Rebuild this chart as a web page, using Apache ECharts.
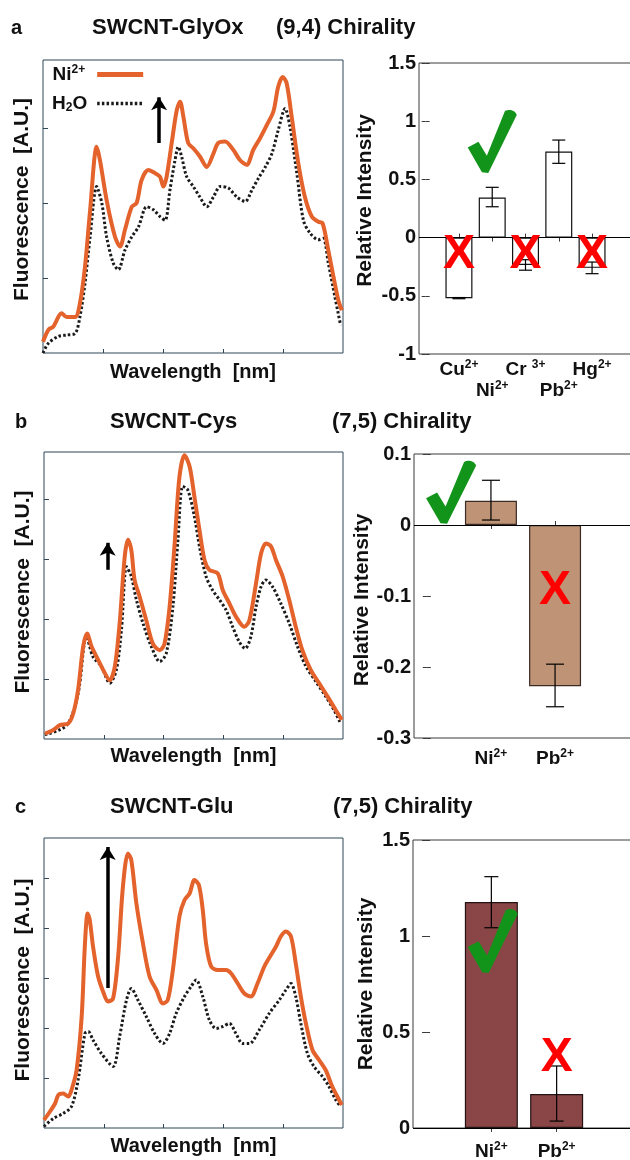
<!DOCTYPE html>
<html>
<head>
<meta charset="utf-8">
<script src="https://cdn.jsdelivr.net/npm/echarts@6/dist/echarts.min.js"></script>
<style>html,body{margin:0;padding:0;background:#fff}#c{width:630px;height:1160px}</style>
</head>
<body>
<div id="c"></div>
<script>
// ---------- DATA ----------
// Spectra (x: relative wavelength 0-100, y: fluorescence in arbitrary units)
const aNi = [[0,0.15],[1.8,0.31],[3.4,0.35],[6.2,0.53],[7.9,0.48],[10.7,0.48],[12.3,0.66],[14,1.15],[15.7,1.9],[17.9,2.75],[19,2.57],[21.2,2.04],[24,1.55],[25.7,1.42],[27.3,1.64],[29.6,1.95],[31.2,2.0],[32.9,2.31],[35.1,2.44],[37.3,2.4],[39,2.35],[40.1,2.22],[41.2,2.35],[42.9,2.8],[44.6,3.24],[45.7,3.35],[46.8,3.15],[48.4,2.8],[50.1,2.73],[52.3,2.62],[54.6,2.48],[56.8,2.66],[58.4,2.8],[60.7,2.82],[63.4,2.71],[65.7,2.57],[67.9,2.51],[70.1,2.71],[72.3,2.86],[74.6,3.04],[76.8,3.22],[78.4,3.55],[79.9,3.68],[81.2,3.6],[82.9,3.15],[85.1,2.53],[87.3,2.08],[89.6,1.82],[91.8,1.75],[93.2,1.73],[95.1,1.37],[96.8,1.02],[98.4,0.71],[99.6,0.57]];
const aH2O = [[0,0],[1.8,0.13],[5.1,0.22],[7.9,0.24],[10.7,0.26],[12.3,0.48],[14,0.93],[15.7,1.55],[17.9,2.22],[19.6,2.0],[21.2,1.55],[23.4,1.2],[25.1,1.11],[27.3,1.37],[29.6,1.55],[31.8,1.68],[34.6,1.95],[36.8,1.91],[39,1.82],[40.7,1.77],[42.3,2.17],[44,2.57],[45.1,2.75],[46.2,2.62],[47.9,2.35],[50.1,2.22],[52.3,2.08],[54.6,1.95],[56.8,2.08],[59.1,2.22],[61.8,2.2],[64.6,2.08],[67.4,2.02],[69.6,2.17],[71.8,2.33],[74.1,2.48],[76.3,2.66],[78.4,2.97],[80.7,3.26],[82.3,3.02],[84.6,2.4],[86.8,1.77],[89,1.6],[91.8,1.51],[93.4,1.53],[95.1,1.2],[97.3,0.75],[99.2,0.37]];
const bNi = [[0.3,0.09],[3.1,0.15],[5.3,0.23],[8.1,0.26],[9.8,0.43],[11.4,0.82],[13.1,1.54],[14.4,1.76],[15.9,1.54],[17.6,1.37],[19.8,1.15],[22,0.98],[23.7,1.21],[25.3,1.93],[27,3.04],[28.1,3.32],[29.2,3.15],[30.3,2.65],[32,2.37],[34.2,1.98],[36.4,1.59],[38.7,1.48],[40.3,1.59],[42,2.2],[43.7,3.26],[45.3,4.37],[47,4.73],[48.7,4.54],[50.3,4.04],[52,3.48],[53.7,2.98],[55.3,2.82],[58.1,2.76],[59.8,2.48],[62,2.26],[64.2,2.04],[67,1.87],[68.7,1.98],[70.9,2.59],[72.6,3.09],[74.2,3.26],[75.9,3.21],[77.6,2.98],[79.8,2.71],[82,2.32],[84.2,1.87],[86.4,1.48],[89.2,1.15],[92,0.93],[94.8,0.71],[97.6,0.48],[99.6,0.32]];
const bH2O = [[0.3,0.07],[7.6,0.23],[11.4,0.76],[14.2,1.71],[16.4,1.37],[19.2,1.21],[22,0.93],[24.2,1.15],[25.9,1.82],[27.6,2.87],[29.2,2.71],[30.9,2.32],[33.1,1.93],[35.9,1.54],[38.7,1.29],[40.9,1.43],[43.1,2.2],[44.8,3.32],[46.4,4.21],[48.1,4.15],[50.3,3.71],[52,3.21],[54.2,2.71],[56.4,2.48],[58.7,2.32],[60.9,2.15],[63.1,1.87],[65.3,1.62],[67.3,1.51],[69.2,1.71],[70.9,2.2],[72.6,2.54],[74.2,2.65],[76.4,2.54],[79.2,2.26],[82,1.93],[84.8,1.54],[87.6,1.21],[90.9,0.96],[94.2,0.71],[97,0.48],[99.2,0.26]];
const cNi = [[0,0.16],[2,0.33],[3.7,0.49],[4.8,0.66],[6.4,0.69],[8.1,0.63],[9.2,0.76],[10.9,1.16],[12.6,2.23],[13.7,3.69],[14.6,4.29],[15.3,4.16],[16.4,3.63],[18.1,3.03],[20,2.69],[21.4,2.53],[23.1,2.59],[24.8,3.43],[26.4,4.83],[28.1,5.49],[29.2,5.36],[30.9,4.49],[33.1,3.69],[35.3,3.03],[37.6,2.76],[39.8,2.49],[41.4,2.56],[43.1,3.16],[45.3,4.23],[47,4.56],[48.7,4.69],[50.3,4.96],[51.8,4.86],[53.1,4.36],[54.2,3.69],[55.9,3.23],[58.1,3.16],[60.9,3.16],[62.6,3.09],[64.8,2.89],[67,2.69],[69.2,2.63],[71.4,2.89],[73.7,3.23],[75.9,3.46],[77.6,3.63],[79.2,3.83],[80.9,3.93],[82.6,3.83],[84.2,3.29],[85.9,2.63],[87.6,2.09],[89.8,1.56],[92,1.36],[94.2,1.16],[96.4,0.83],[98.7,0.56],[99.6,0.46]];
const cH2O = [[0,0.03],[3.1,0.19],[6.4,0.29],[9.2,0.43],[11.4,0.96],[13.7,1.89],[14.8,1.93],[16.4,1.76],[19.2,1.49],[23.1,1.23],[25.3,1.83],[27.6,2.56],[29.2,2.79],[31.4,2.56],[34.2,2.23],[37,1.89],[39.8,1.69],[42,1.89],[44.2,2.29],[47,2.63],[49.2,2.83],[50.9,2.96],[53.1,2.63],[55.3,2.16],[57.6,1.99],[59.8,2.03],[62,2.09],[64.2,1.89],[66.4,1.69],[68.7,1.69],[72,1.96],[75.3,2.29],[78.7,2.56],[80.9,2.76],[82.6,2.89],[84.2,2.63],[85.9,2.09],[88.1,1.49],[90.3,1.23],[93.1,1.03],[95.3,0.83],[97.6,0.56],[99.2,0.43]];
// arrows: [x, yStart, yEnd]
const arrowA = [38.7, 2.8, 3.41];
const arrowB = [21.3, 2.82, 3.27];
const arrowC = [21.3, 2.8, 5.62];

// Relative intensity bars
const ionsA = ['Cu', 'Ni', 'Cr ', 'Pb', 'Hg'];
const chargeA = ['2+', '2+', '3+', '2+', '2+'];
const relA = [-0.52, 0.345, -0.235, 0.74, -0.26];
const errLoA = [-0.525, 0.265, -0.28, 0.638, -0.31];
const errHiA = [-0.515, 0.432, -0.19, 0.838, -0.21];

const ionsB = ['Ni', 'Pb'];
const chargeB = ['2+', '2+'];
const relB = [0.034, -0.227];
const errLoB = [0.007, -0.256];
const errHiB = [0.063, -0.196];

const ionsC = ['Ni', 'Pb'];
const chargeC = ['2+', '2+'];
const relC = [1.177, 0.177];
const errLoC = [1.043, 0.036];
const errHiC = [1.309, 0.323];

// annotation marks in data coordinates
const checksA = [[2, 0.826]];
const crossesA = [[1, -0.15], [3, -0.15], [5, -0.15]];
const checksB = [[0.378, 0.046]];
const crossesB = [[2, -0.093]];
const checksC = [[1.02, 0.974]];
const crossesC = [[2, 0.365]];

// ---------- STYLE ----------
const FONT = '"Liberation Sans", Arial, sans-serif';
const ORANGE = '#e4622b';
const DOT = '#1a1a1a';
const FRAME_L = '#2f4656';
const FRAME_R = '#3a3a3a';
const GREEN = '#12941a';
const RED = '#ff0000';
const CHECK_PATH = 'path://M0,60 L22,51 L39,73 L76,3 C84,-1 98,2 100,9 L42,100 L29,99 Z';

const richLab = {
  t: {fontSize: 19, fontWeight: 'bold', fontFamily: FONT, color: '#111', lineHeight: 21},
  sup: {fontSize: 12, fontWeight: 'bold', fontFamily: FONT, color: '#111', verticalAlign: 'top', lineHeight: 13},
  sub: {fontSize: 12, fontWeight: 'bold', fontFamily: FONT, color: '#111', verticalAlign: 'bottom', lineHeight: 13}
};
const nameStyle = (size, pad) => ({fontSize: size, fontWeight: 'bold', fontFamily: FONT, color: '#111', padding: pad});

function specX(g, gap) {
  return {gridIndex: g, type: 'value', min: 0, max: 100,
    axisLine: {show: false}, splitLine: {show: false}, axisLabel: {show: false},
    axisTick: {show: true, inside: true, length: 4, customValues: [20, 40, 60, 80], lineStyle: {color: FRAME_L}},
    name: 'Wavelength  [nm]', nameLocation: 'middle', nameGap: gap,
    nameTextStyle: nameStyle(20, 0)};
}
function specY(g, max, ticks, pad) {
  return {gridIndex: g, type: 'value', min: 0, max: max,
    axisLine: {show: false}, splitLine: {show: false}, axisLabel: {show: false},
    axisTick: {show: true, inside: true, length: 5, customValues: ticks, lineStyle: {color: FRAME_L}},
    name: 'Fluorescence  [A.U.]', nameLocation: 'middle', nameGap: 10, nameRotate: 90,
    nameTextStyle: nameStyle(21, pad)};
}
// bar-plot x axis; labelIdx = which categories (0-based) get a label on this axis
function barX(g, pos, max, ions, charges, labelIdx, margin, ticks) {
  const vals = ions.map((_, i) => i + 1);
  const labVals = labelIdx.map(i => i + 1);
  return {gridIndex: g, type: 'value', position: pos, min: -0.2, max: max,
    axisLine: {show: false}, splitLine: {show: false},
    axisTick: {show: ticks, inside: true, length: 4, customValues: vals, lineStyle: {color: FRAME_R}},
    axisLabel: labVals.length ? {show: true, customValues: labVals, margin: margin, lineHeight: 21,
      showMinLabel: true, showMaxLabel: true, hideOverlap: false,
      formatter: v => {
        const i = Math.round(v) - 1;
        return '{t|' + ions[i] + '}{sup|' + charges[i] + '}';
      }, rich: richLab} : {show: false}};
}
function barY(g, pos, min, max, interval, gap, pad) {
  const o = {gridIndex: g, type: 'value', position: pos, min: min, max: max, interval: interval,
    axisLine: {show: false}, splitLine: {show: false},
    axisTick: {show: true, inside: true, length: 4, lineStyle: {color: FRAME_R}},
    axisLabel: {show: pos === 'left', margin: 3, fontSize: 20, fontWeight: 'bold', fontFamily: FONT, color: '#111'}};
  if (pos === 'left') {
    o.name = 'Relative Intensity'; o.nameLocation = 'middle'; o.nameGap = gap; o.nameRotate = 90;
    o.nameTextStyle = nameStyle(21, pad);
  }
  return o;
}
function gridBox(l, t, w, h, col) {
  return {left: l, top: t, width: w, height: h, show: true, borderColor: col, borderWidth: 1,
    backgroundColor: 'rgba(0,0,0,0)', containLabel: false, outerBoundsMode: 'none'};
}
function niLine(name, ax, data) {
  return {type: 'line', name: name, xAxisIndex: ax, yAxisIndex: ax, data: data, symbol: 'none', showSymbol: false,
    smooth: 0.3, lineStyle: {color: ORANGE, width: 4}, itemStyle: {color: ORANGE}, z: 4, silent: true};
}
function h2oLine(name, ax, data, arrow) {
  return {type: 'line', name: name, xAxisIndex: ax, yAxisIndex: ax, data: data, symbol: 'none', showSymbol: false,
    smooth: 0.3, lineStyle: {color: DOT, width: 3, type: [2.5, 2.2]}, itemStyle: {color: DOT}, z: 3, silent: true,
    markLine: {silent: true, symbol: ['none', 'arrow'], symbolSize: [12, 13], animation: false,
      lineStyle: {color: '#000', width: 3.5, type: 'solid'}, label: {show: false},
      data: [[{coord: [arrow[0], arrow[1]]}, {coord: [arrow[0], arrow[2]]}]]}};
}
function bars(ax, vals, color, border, width) {
  return {type: 'bar', xAxisIndex: ax, yAxisIndex: ax, data: vals.map((v, i) => [i + 1, v]), barWidth: width,
    itemStyle: {color: color, borderColor: border, borderWidth: 1.2}, z: 2, silent: true,
    markLine: {silent: true, symbol: 'none', animation: false, label: {show: false},
      lineStyle: {color: '#000', width: 1.2, type: 'solid'}, data: [{yAxis: 0}]}};
}
function errBars(ax, lo, hi, cap) {
  return {type: 'custom', xAxisIndex: ax, yAxisIndex: ax, z: 5, silent: true,
    data: lo.map((v, i) => [i + 1, v, hi[i]]), encode: {x: 0, y: [1, 2]},
    renderItem: (params, api) => {
      const p1 = api.coord([api.value(0), api.value(1)]);
      const p2 = api.coord([api.value(0), api.value(2)]);
      const st = {stroke: '#000', lineWidth: 1.2};
      return {type: 'group', children: [
        {type: 'line', shape: {x1: p1[0], y1: p1[1], x2: p2[0], y2: p2[1]}, style: st},
        {type: 'line', shape: {x1: p1[0] - cap, y1: p1[1], x2: p1[0] + cap, y2: p1[1]}, style: st},
        {type: 'line', shape: {x1: p2[0] - cap, y1: p2[1], x2: p2[0] + cap, y2: p2[1]}, style: st}
      ]};
    }};
}
function checks(ax, pts, size) {
  return {type: 'scatter', xAxisIndex: ax, yAxisIndex: ax, data: pts, symbol: CHECK_PATH, symbolSize: size,
    itemStyle: {color: GREEN, opacity: 1}, z: 8, silent: true};
}
function crosses(ax, pts) {
  return {type: 'scatter', xAxisIndex: ax, yAxisIndex: ax, data: pts, symbol: 'circle', symbolSize: 0,
    itemStyle: {color: 'rgba(0,0,0,0)', opacity: 1}, z: 9, silent: true,
    label: {show: true, position: 'inside', formatter: 'X', color: RED, opacity: 1, fontSize: 48, fontWeight: 'bold', fontFamily: FONT}};
}
function title(x, y, txt, size) {
  return {type: 'text', x: x, y: y, style: {text: txt, fontSize: size, fontWeight: 'bold', fontFamily: FONT, fill: '#111', verticalAlign: 'middle', align: 'left'}};
}

const option = {
  backgroundColor: '#fff',
  animation: false,
  grid: [
    gridBox(43, 60, 300, 293, FRAME_L),
    gridBox(419, 63, 213, 291, FRAME_R),
    gridBox(44, 452, 299, 287, FRAME_L),
    gridBox(414, 454, 218, 284, FRAME_R),
    gridBox(44, 838, 299, 290, FRAME_L),
    gridBox(413, 840, 222, 288, FRAME_R)
  ],
  xAxis: [
    specX(0, 9),
    barX(1, 'bottom', 6.2, ionsA, chargeA, [0, 2, 4], 5, true),
    barX(1, 'top', 6.2, ionsA, chargeA, [], 5, true),
    specX(2, 7),
    barX(3, 'bottom', 3.2, ionsB, chargeB, [0, 1], 10, true),
    barX(3, 'top', 3.2, ionsB, chargeB, [], 10, true),
    specX(4, 8),
    barX(5, 'bottom', 3.2, ionsC, chargeC, [0, 1], 13, true),
    barX(5, 'top', 3.2, ionsC, chargeC, [], 13, true),
    barX(1, 'bottom', 6.2, ionsA, chargeA, [1, 3], 26, false)
  ],
  yAxis: [
    specY(0, 3.907, [1, 2, 3], [0, 0, 0, 14]),
    barY(1, 'left', -1, 1.5, 0.5, 43, [0, 0, 0, 16]),
    barY(1, 'right', -1, 1.5, 0.5, 0),
    specY(2, 4.783, [1, 2, 3, 4], [0, 0, 0, 7]),
    barY(3, 'left', -0.3, 0.1, 0.1, 37, [0, 8, 0, 0]),
    barY(3, 'right', -0.3, 0.1, 0.1, 0),
    specY(4, 5.8, [1, 2, 3, 4, 5], [0, 0, 0, 6]),
    barY(5, 'left', 0, 1.5, 0.5, 36, 0),
    barY(5, 'right', 0, 1.5, 0.5, 0)
  ],
  legend: {
    left: 47, top: 59, orient: 'vertical', align: 'right', itemWidth: 46, itemHeight: 12, itemGap: 10,
    selectedMode: false,
    itemStyle: {opacity: 0},
    data: [
      {name: 'Ni2+', itemStyle: {opacity: 0}, lineStyle: {width: 5, color: ORANGE}},
      {name: 'H2O', itemStyle: {opacity: 0}, lineStyle: {width: 3.5, color: DOT, type: [2.5, 2.2]}}
    ],
    formatter: n => n === 'Ni2+' ? '{t|Ni}{sup|2+}{pad1|}' : '{t|H}{sub|2}{t|O}{pad2|}',
    textStyle: {rich: Object.assign({pad1: {width: 7}, pad2: {width: 5}}, richLab)}
  },
  series: [
    niLine('Ni2+', 0, aNi), h2oLine('H2O', 0, aH2O, arrowA),
    niLine('b-Ni', 3, bNi), h2oLine('b-H2O', 3, bH2O, arrowB),
    niLine('c-Ni', 6, cNi), h2oLine('c-H2O', 6, cH2O, arrowC),
    bars(1, relA, '#ffffff', '#111', 27), errBars(1, errLoA, errHiA, 6.5),
    checks(1, checksA, [49, 63]), crosses(1, crossesA),
    bars(4, relB, '#bf9375', '#3a2c24', 52), errBars(4, errLoB, errHiB, 9),
    checks(4, checksB, [50, 63]), crosses(4, crossesB),
    bars(7, relC, '#8a4646', '#221414', 53), errBars(7, errLoC, errHiC, 7),
    checks(7, checksC, [50, 64]), crosses(7, crossesC)
  ],
  graphic: [
    title(11, 28, 'a', 20), title(92, 28, 'SWCNT-GlyOx', 22), title(276, 28, '(9,4) Chirality', 22),
    title(15, 422, 'b', 20), title(110, 422, 'SWCNT-Cys', 22), title(332, 422, '(7,5) Chirality', 22),
    title(15, 807, 'c', 20), title(110, 807, 'SWCNT-Glu', 22), title(333, 807, '(7,5) Chirality', 22)
  ]
};
const chart = echarts.init(document.getElementById('c'), null, {renderer: 'canvas'});
chart.setOption(option);
</script>
</body>
</html>
